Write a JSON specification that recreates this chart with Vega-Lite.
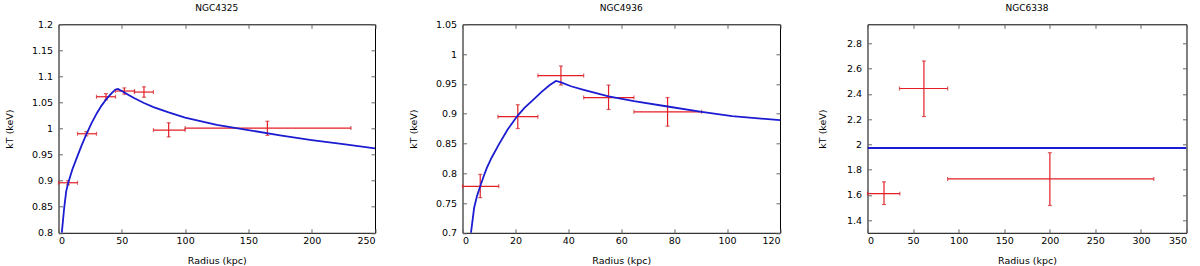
{
  "$schema": "https://vega.github.io/schema/vega-lite/v6.json",
  "padding": {"left": 3.5, "top": 2.3, "right": 0, "bottom": 0},
  "spacing": 87,
  "bounds": "flush",
  "background": "white",
  "config": {
    "font": "DejaVu Sans",
    "view": {"stroke": "#000000", "strokeWidth": 1},
    "axis": {"grid": false, "domain": false, "tickSize": -4, "tickColor": "#666666", "tickWidth": 1, "labelFontSize": 9.5, "labelColor": "#000000", "titleFontSize": 9.5, "titleFontWeight": "normal", "titleColor": "#000000", "labelFont": "DejaVu Sans", "titleFont": "DejaVu Sans"},
    "axisX": {"labelPadding": 7, "minExtent": 15, "maxExtent": 15, "titlePadding": 7.8},
    "axisY": {"labelPadding": 10, "minExtent": 40, "maxExtent": 40, "titlePadding": 4.5},
    "title": {"fontSize": 9, "fontWeight": "normal", "color": "#000000", "font": "DejaVu Sans", "offset": 5.6, "baseline": "alphabetic", "frame": "group", "anchor": "middle"}
  },
  "datasets": {
    "p1pts": [
      {"r": 7.5, "rlo": 0, "rhi": 15, "kT": 0.896, "kTlo": 0.892, "kThi": 0.900},
      {"r": 22, "rlo": 15, "rhi": 30, "kT": 0.990, "kTlo": 0.986, "kThi": 0.994},
      {"r": 37.5, "rlo": 30, "rhi": 45, "kT": 1.061, "kTlo": 1.055, "kThi": 1.067},
      {"r": 52, "rlo": 45, "rhi": 60, "kT": 1.072, "kTlo": 1.066, "kThi": 1.078},
      {"r": 67.5, "rlo": 60, "rhi": 75, "kT": 1.070, "kTlo": 1.060, "kThi": 1.080},
      {"r": 87, "rlo": 75, "rhi": 100, "kT": 0.997, "kTlo": 0.984, "kThi": 1.011},
      {"r": 165, "rlo": 100, "rhi": 231, "kT": 1.001, "kTlo": 0.987, "kThi": 1.014}
    ],
    "p1fit": [
      {"r": 2.6, "kT": 0.800}, {"r": 4.5, "kT": 0.848}, {"r": 6.1, "kT": 0.880}, {"r": 7.7, "kT": 0.896},
      {"r": 11, "kT": 0.922}, {"r": 14.8, "kT": 0.946}, {"r": 18.5, "kT": 0.969}, {"r": 22.2, "kT": 0.990},
      {"r": 26, "kT": 1.010}, {"r": 30.4, "kT": 1.030}, {"r": 34, "kT": 1.044}, {"r": 38.3, "kT": 1.058},
      {"r": 42, "kT": 1.068}, {"r": 45, "kT": 1.075}, {"r": 47, "kT": 1.076}, {"r": 50, "kT": 1.072},
      {"r": 55, "kT": 1.065}, {"r": 60, "kT": 1.058}, {"r": 67.5, "kT": 1.049}, {"r": 75, "kT": 1.041},
      {"r": 87, "kT": 1.031}, {"r": 100, "kT": 1.021}, {"r": 125, "kT": 1.007}, {"r": 150, "kT": 0.997},
      {"r": 175, "kT": 0.987}, {"r": 200, "kT": 0.978}, {"r": 225, "kT": 0.970}, {"r": 250, "kT": 0.962}
    ],
    "p2pts": [
      {"r": 6.7, "rlo": 0, "rhi": 13.7, "kT": 0.778, "kTlo": 0.759, "kThi": 0.798},
      {"r": 20.9, "rlo": 13.4, "rhi": 28.5, "kT": 0.895, "kTlo": 0.875, "kThi": 0.915},
      {"r": 37.2, "rlo": 28.5, "rhi": 45.8, "kT": 0.964, "kTlo": 0.948, "kThi": 0.980},
      {"r": 55.2, "rlo": 45.8, "rhi": 64.8, "kT": 0.927, "kTlo": 0.907, "kThi": 0.948},
      {"r": 77.5, "rlo": 64.8, "rhi": 90.4, "kT": 0.903, "kTlo": 0.879, "kThi": 0.927}
    ],
    "p2fit": [
      {"r": 3.2, "kT": 0.700}, {"r": 4.4, "kT": 0.742}, {"r": 5.5, "kT": 0.762}, {"r": 6.7, "kT": 0.778},
      {"r": 8, "kT": 0.795}, {"r": 9.2, "kT": 0.809}, {"r": 11, "kT": 0.826}, {"r": 13.7, "kT": 0.848},
      {"r": 17, "kT": 0.873}, {"r": 20.7, "kT": 0.896}, {"r": 23.5, "kT": 0.910}, {"r": 26.4, "kT": 0.922},
      {"r": 30, "kT": 0.937}, {"r": 33, "kT": 0.948}, {"r": 35.3, "kT": 0.955}, {"r": 37, "kT": 0.953},
      {"r": 41, "kT": 0.946}, {"r": 45.8, "kT": 0.940}, {"r": 55.2, "kT": 0.929}, {"r": 64.8, "kT": 0.921},
      {"r": 77.5, "kT": 0.912}, {"r": 90.4, "kT": 0.903}, {"r": 101.9, "kT": 0.896}, {"r": 120, "kT": 0.889}
    ],
    "p3pts": [
      {"r": 18.1, "rlo": 0, "rhi": 35.5, "kT": 1.610, "kTlo": 1.524, "kThi": 1.703},
      {"r": 61.9, "rlo": 35.1, "rhi": 87.9, "kT": 2.442, "kTlo": 2.220, "kThi": 2.660},
      {"r": 200.1, "rlo": 87.9, "rhi": 314.1, "kT": 1.726, "kTlo": 1.516, "kThi": 1.934}
    ],
    "p3fit": [
      {"r": 0, "kT": 1.971}, {"r": 350, "kT": 1.971}
    ]
  },
  "hconcat": [
    {
      "width": 316.5, "height": 208.5,
      "title": {"text": "NGC4325"},
      "resolve": {"axis": {"x": "independent", "y": "independent"}},
      "layer": [
        {
          "data": {"name": "p1pts"},
          "mark": {"type": "rule", "color": "#e41e26", "strokeWidth": 1.2},
          "encoding": {
            "x": {"field": "rlo", "type": "quantitative", "scale": {"domain": [0, 250], "nice": false, "zero": false}, "axis": {"orient": "top", "labels": false, "title": null, "minExtent": 6, "maxExtent": 6, "values": [0, 50, 100, 150, 200, 250]}},
            "x2": {"field": "rhi"},
            "y": {"field": "kT", "type": "quantitative", "scale": {"domain": [0.8, 1.2], "nice": false, "zero": false}, "axis": {"orient": "right", "labels": false, "title": null, "minExtent": 0, "maxExtent": 0, "values": [0.8, 0.85, 0.9, 0.95, 1, 1.05, 1.1, 1.15, 1.2]}}
          }
        },
        {
          "data": {"name": "p1pts"},
          "mark": {"type": "rule", "color": "#e41e26", "strokeWidth": 1.2},
          "encoding": {
            "x": {"field": "r", "type": "quantitative", "axis": null},
            "y": {"field": "kTlo", "type": "quantitative", "axis": null},
            "y2": {"field": "kThi"}
          }
        },
        {
          "data": {"name": "p1pts"},
          "transform": [{"fold": ["rlo", "rhi"], "as": ["end", "xv"]}],
          "mark": {"type": "tick", "color": "#d01f24", "orient": "vertical", "size": 4, "thickness": 1.2},
          "encoding": {
            "x": {"field": "xv", "type": "quantitative", "axis": null},
            "y": {"field": "kT", "type": "quantitative", "axis": null}
          }
        },
        {
          "data": {"name": "p1pts"},
          "transform": [{"fold": ["kTlo", "kThi"], "as": ["end", "yv"]}],
          "mark": {"type": "tick", "color": "#d01f24", "orient": "horizontal", "size": 4, "thickness": 1.2},
          "encoding": {
            "x": {"field": "r", "type": "quantitative", "axis": null},
            "y": {"field": "yv", "type": "quantitative", "axis": null}
          }
        },
        {
          "data": {"name": "p1fit"},
          "mark": {"type": "line", "color": "#1c1cd2", "strokeWidth": 1.8, "clip": true},
          "encoding": {
            "x": {"field": "r", "type": "quantitative", "axis": {"orient": "bottom", "title": "Radius (kpc)", "format": "~f", "values": [0, 50, 100, 150, 200, 250]}},
            "y": {"field": "kT", "type": "quantitative", "axis": {"orient": "left", "title": "kT (keV)", "format": "~f", "values": [0.8, 0.85, 0.9, 0.95, 1, 1.05, 1.1, 1.15, 1.2]}}
          }
        }
      ]
    },
    {
      "width": 317.5, "height": 208.5,
      "title": {"text": "NGC4936"},
      "resolve": {"axis": {"x": "independent", "y": "independent"}},
      "layer": [
        {
          "data": {"name": "p2pts"},
          "mark": {"type": "rule", "color": "#e41e26", "strokeWidth": 1.2},
          "encoding": {
            "x": {"field": "rlo", "type": "quantitative", "scale": {"domain": [0, 120], "nice": false, "zero": false}, "axis": {"orient": "top", "labels": false, "title": null, "minExtent": 6, "maxExtent": 6, "values": [0, 20, 40, 60, 80, 100, 120]}},
            "x2": {"field": "rhi"},
            "y": {"field": "kT", "type": "quantitative", "scale": {"domain": [0.7, 1.05], "nice": false, "zero": false}, "axis": {"orient": "right", "labels": false, "title": null, "minExtent": 0, "maxExtent": 0, "values": [0.7, 0.75, 0.8, 0.85, 0.9, 0.95, 1, 1.05]}}
          }
        },
        {
          "data": {"name": "p2pts"},
          "mark": {"type": "rule", "color": "#e41e26", "strokeWidth": 1.2},
          "encoding": {
            "x": {"field": "r", "type": "quantitative", "axis": null},
            "y": {"field": "kTlo", "type": "quantitative", "axis": null},
            "y2": {"field": "kThi"}
          }
        },
        {
          "data": {"name": "p2pts"},
          "transform": [{"fold": ["rlo", "rhi"], "as": ["end", "xv"]}],
          "mark": {"type": "tick", "color": "#d01f24", "orient": "vertical", "size": 4, "thickness": 1.2},
          "encoding": {
            "x": {"field": "xv", "type": "quantitative", "axis": null},
            "y": {"field": "kT", "type": "quantitative", "axis": null}
          }
        },
        {
          "data": {"name": "p2pts"},
          "transform": [{"fold": ["kTlo", "kThi"], "as": ["end", "yv"]}],
          "mark": {"type": "tick", "color": "#d01f24", "orient": "horizontal", "size": 4, "thickness": 1.2},
          "encoding": {
            "x": {"field": "r", "type": "quantitative", "axis": null},
            "y": {"field": "yv", "type": "quantitative", "axis": null}
          }
        },
        {
          "data": {"name": "p2fit"},
          "mark": {"type": "line", "color": "#1c1cd2", "strokeWidth": 1.8, "clip": true},
          "encoding": {
            "x": {"field": "r", "type": "quantitative", "axis": {"orient": "bottom", "title": "Radius (kpc)", "format": "~f", "values": [0, 20, 40, 60, 80, 100, 120]}},
            "y": {"field": "kT", "type": "quantitative", "axis": {"orient": "left", "title": "kT (keV)", "format": "~f", "values": [0.7, 0.75, 0.8, 0.85, 0.9, 0.95, 1, 1.05]}}
          }
        }
      ]
    },
    {
      "width": 319, "height": 208.5,
      "title": {"text": "NGC6338"},
      "resolve": {"axis": {"x": "independent", "y": "independent"}},
      "layer": [
        {
          "data": {"name": "p3pts"},
          "mark": {"type": "rule", "color": "#e41e26", "strokeWidth": 1.2},
          "encoding": {
            "x": {"field": "rlo", "type": "quantitative", "scale": {"domain": [0, 350], "nice": false, "zero": false}, "axis": {"orient": "top", "labels": false, "title": null, "minExtent": 6, "maxExtent": 6, "values": [0, 50, 100, 150, 200, 250, 300, 350]}},
            "x2": {"field": "rhi"},
            "y": {"field": "kT", "type": "quantitative", "scale": {"domain": [1.3, 2.95], "nice": false, "zero": false}, "axis": {"orient": "right", "labels": false, "title": null, "minExtent": 0, "maxExtent": 0, "values": [1.4, 1.6, 1.8, 2, 2.2, 2.4, 2.6, 2.8]}}
          }
        },
        {
          "data": {"name": "p3pts"},
          "mark": {"type": "rule", "color": "#e41e26", "strokeWidth": 1.2},
          "encoding": {
            "x": {"field": "r", "type": "quantitative", "axis": null},
            "y": {"field": "kTlo", "type": "quantitative", "axis": null},
            "y2": {"field": "kThi"}
          }
        },
        {
          "data": {"name": "p3pts"},
          "transform": [{"fold": ["rlo", "rhi"], "as": ["end", "xv"]}],
          "mark": {"type": "tick", "color": "#d01f24", "orient": "vertical", "size": 4, "thickness": 1.2},
          "encoding": {
            "x": {"field": "xv", "type": "quantitative", "axis": null},
            "y": {"field": "kT", "type": "quantitative", "axis": null}
          }
        },
        {
          "data": {"name": "p3pts"},
          "transform": [{"fold": ["kTlo", "kThi"], "as": ["end", "yv"]}],
          "mark": {"type": "tick", "color": "#d01f24", "orient": "horizontal", "size": 4, "thickness": 1.2},
          "encoding": {
            "x": {"field": "r", "type": "quantitative", "axis": null},
            "y": {"field": "yv", "type": "quantitative", "axis": null}
          }
        },
        {
          "data": {"name": "p3fit"},
          "mark": {"type": "line", "color": "#1c1cd2", "strokeWidth": 2.2, "clip": true},
          "encoding": {
            "x": {"field": "r", "type": "quantitative", "axis": {"orient": "bottom", "title": "Radius (kpc)", "format": "~f", "values": [0, 50, 100, 150, 200, 250, 300, 350]}},
            "y": {"field": "kT", "type": "quantitative", "axis": {"orient": "left", "title": "kT (keV)", "format": "~f", "minExtent": 35, "maxExtent": 35, "values": [1.4, 1.6, 1.8, 2, 2.2, 2.4, 2.6, 2.8]}}
          }
        }
      ]
    }
  ]
}
